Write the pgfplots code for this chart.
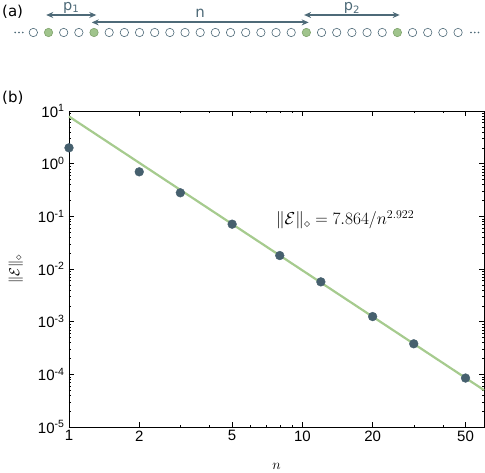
\documentclass[border=0pt]{standalone}
\usepackage{pgfplots}
\pgfplotsset{compat=1.18}
\usepackage{fontspec}
\setmainfont{DejaVu Sans}
\newfontfamily\helv{Liberation Sans}
\usetikzlibrary{arrows.meta}
\definecolor{dk}{HTML}{46606E}
\definecolor{ln}{HTML}{A6CB8E}
\definecolor{gf}{HTML}{A0C48C}
\definecolor{gd}{HTML}{7FA36C}
\definecolor{sl}{HTML}{4E6A78}
\begin{document}
\begin{tikzpicture}
\useasboundingbox (-69pt,-46pt) rectangle (416pt,427pt);
% ---------- panel (b) ----------
\begin{axis}[
  at={(0pt,0pt)}, anchor=south west,
  scale only axis, width=415pt, height=316pt,
  xmode=log, ymode=log,
  xmin=1, xmax=60, ymin=1e-5, ymax=10,
  xtick={1,2,5,10,20,50},
  xticklabels={1,2,5,10,20,50},
  minor xtick={3,4,6,7,8,9,30,40},
  ytick={1e-5,1e-4,1e-3,1e-2,1e-1,1,10},
  yticklabels={10\textsuperscript{-5},10\textsuperscript{-4},10\textsuperscript{-3},10\textsuperscript{-2},10\textsuperscript{-1},10\textsuperscript{0},10\textsuperscript{1}},
  tick label style={font=\helv\fontsize{15}{17}\selectfont, text=black},
  yticklabel style={xshift=-1pt},
  tick align=inside,
  major tick length=5pt, minor tick length=2.5pt,
  axis line style={black, line width=0.5pt},
  every tick/.style={black, line width=0.4pt},
  xlabel={$n$}, ylabel={$\|\mathcal{E}\|_\diamond$},
  label style={font=\fontsize{15}{17}\selectfont},
  ylabel style={at={(axis description cs:-0.128,0.5)}, anchor=center},
  xlabel style={at={(axis description cs:0.5,-0.105)}},
  clip=false,
]
\addplot[ln, line width=2.2pt] coordinates {(1,7.864) (60,5.02e-5)};
\addplot[only marks, mark=*, mark size=4.4pt, mark options={fill=dk, draw=dk}] coordinates {
 (1,2.0) (2,0.70) (3,0.28) (5,0.071) (8,0.018) (12,0.0057) (20,0.00125) (30,0.00038) (50,8.5e-5)};
\node[anchor=west, inner sep=0pt, font=\fontsize{18}{20}\selectfont] at (axis cs:7.7,0.085) {$\|\mathcal{E}\|_\diamond = 7.864/n^{2.922}$};
\end{axis}
% ---------- panel (a) ----------
\begin{axis}[
  at={(-66pt,385pt)}, anchor=south west,
  scale only axis, width=481pt, height=40pt,
  xmin=-2, xmax=29.71, ymin=0, ymax=1,
  axis lines=none, clip=false,
]
\addplot[only marks, mark=*, mark size=4.2pt, mark options={fill=white, draw=sl, line width=0.6pt}] coordinates {
 (0,0.2375) (2,0.2375) (3,0.2375) (5,0.2375) (6,0.2375) (7,0.2375) (8,0.2375) (9,0.2375) (10,0.2375)
 (11,0.2375) (12,0.2375) (13,0.2375) (14,0.2375) (15,0.2375) (16,0.2375) (17,0.2375) (19,0.2375)
 (20,0.2375) (21,0.2375) (22,0.2375) (23,0.2375) (25,0.2375) (26,0.2375) (27,0.2375) (28,0.2375)};
\addplot[only marks, mark=*, mark size=4.2pt, mark options={fill=gf, draw=gd, line width=0.6pt}] coordinates {
 (1,0.2375) (4,0.2375) (18,0.2375) (24,0.2375)};
\addplot[only marks, mark=*, mark size=0.6pt, mark options={fill=sl, draw=sl}] coordinates {
 (-1.2,0.2375) (-0.95,0.2375) (-0.7,0.2375) (28.85,0.2375) (29.1,0.2375) (29.35,0.2375)};
\draw[sl, line width=1.8pt, {Stealth[length=7pt,width=6pt]}-{Stealth[length=7pt,width=6pt]}] (axis cs:0.85,0.675) -- (axis cs:4.15,0.675);
\draw[sl, line width=1.8pt, {Stealth[length=7pt,width=6pt]}-{Stealth[length=7pt,width=6pt]}] (axis cs:3.85,0.49) -- (axis cs:18.15,0.49);
\draw[sl, line width=1.8pt, {Stealth[length=7pt,width=6pt]}-{Stealth[length=7pt,width=6pt]}] (axis cs:17.85,0.675) -- (axis cs:24.15,0.675);
\node[text=sl, inner sep=0pt, font=\fontsize{14.5}{16}\selectfont] at (axis cs:2.5,0.85) {p\textsubscript{1}};
\node[text=sl, inner sep=0pt, font=\fontsize{15}{17}\selectfont] at (axis cs:11,0.72) {n};
\node[text=sl, inner sep=0pt, font=\fontsize{14.5}{16}\selectfont] at (axis cs:21,0.85) {p\textsubscript{2}};
\end{axis}
\node[anchor=west, inner sep=0pt, font=\fontsize{15}{17}\selectfont] at (-67pt,415pt) {(a)};
\node[anchor=west, inner sep=0pt, font=\fontsize{15}{17}\selectfont] at (-67pt,329pt) {(b)};
\end{tikzpicture}
\end{document}
